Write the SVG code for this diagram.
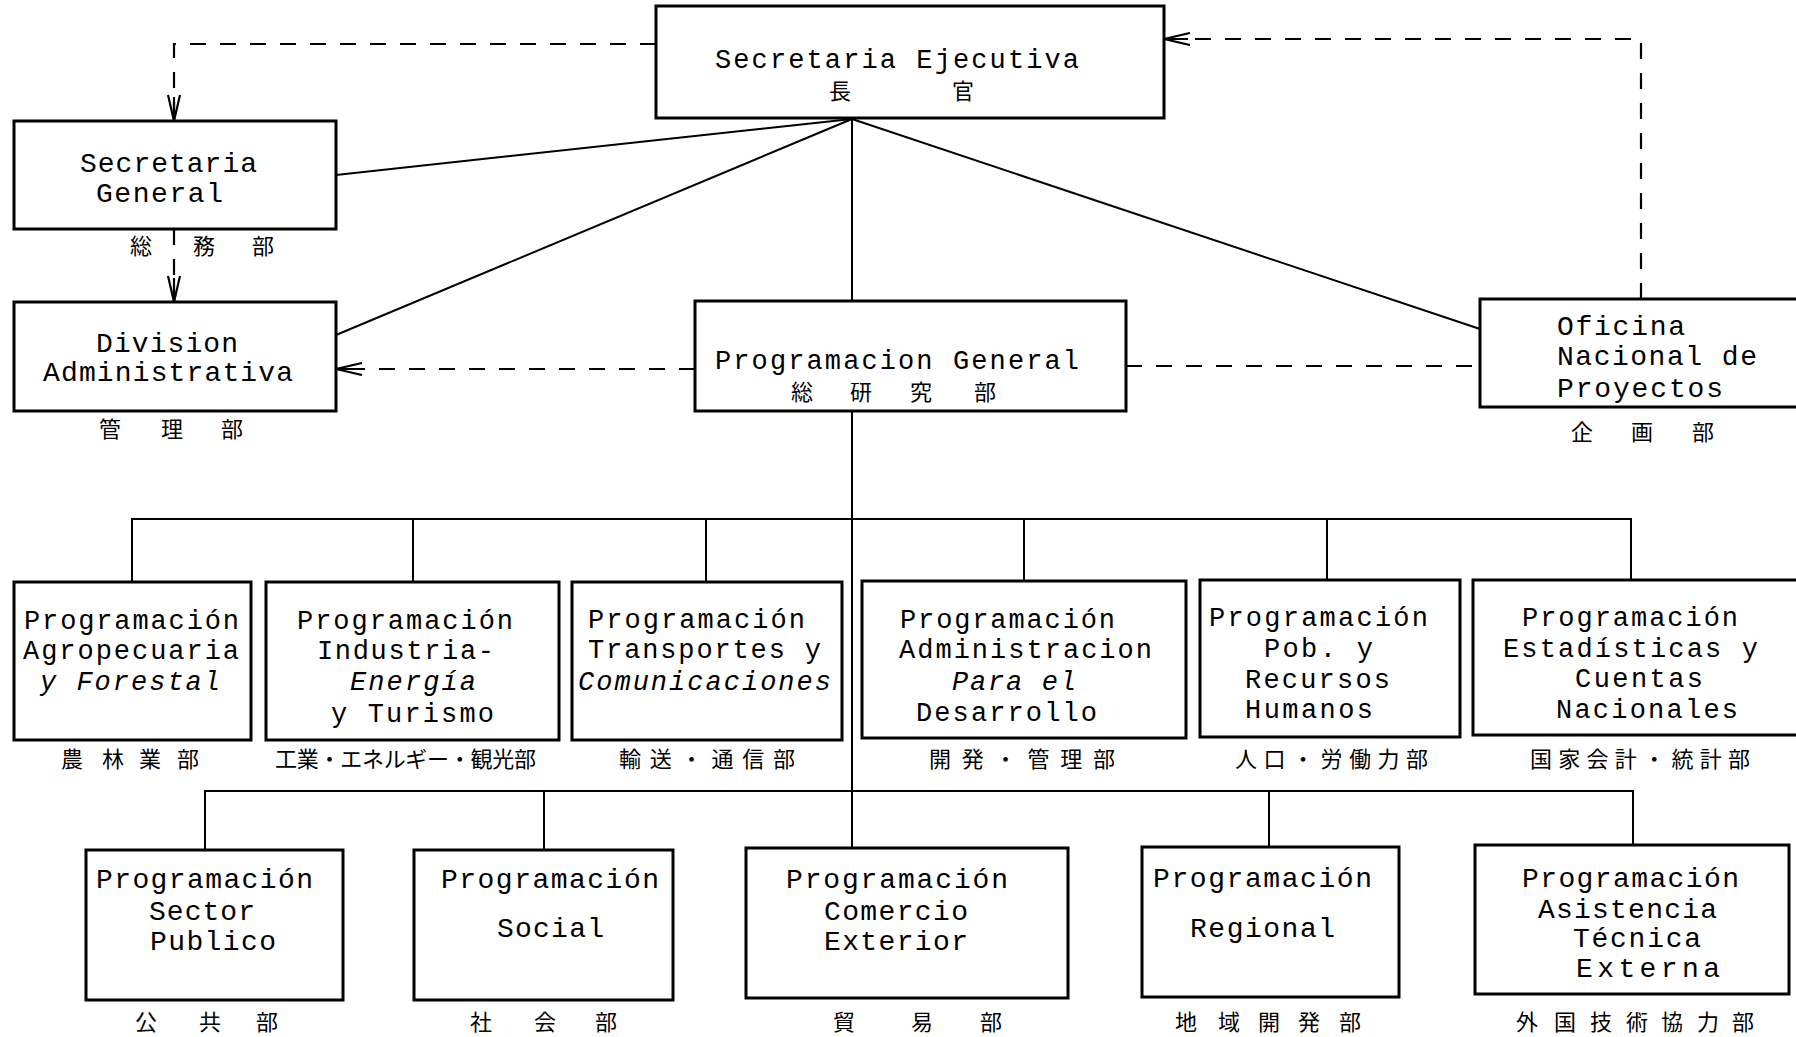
<svg xmlns="http://www.w3.org/2000/svg" width="1796" height="1037" viewBox="0 0 1796 1037">
<style>
.box{fill:#fff;stroke:#000;stroke-width:3}
.ln{fill:none;stroke:#000;stroke-width:2}
.dl{fill:none;stroke:#000;stroke-width:2.2;stroke-dasharray:16 14}
.t{font-family:"Liberation Mono","DejaVu Sans Mono",monospace;font-size:27px;fill:#000}
.n{font-family:"Liberation Mono","DejaVu Sans Mono",monospace;font-size:28px;fill:#000}
.i{font-style:italic}
.j{font-family:"Noto Sans CJK JP","Noto Sans CJK SC",sans-serif;font-size:22px;fill:#000;text-anchor:middle}
.js{font-family:"Noto Sans CJK JP","Noto Sans CJK SC",sans-serif;font-size:22px;fill:#000}
</style>
<defs>
<marker id="arr" markerUnits="userSpaceOnUse" markerWidth="30" markerHeight="14" refX="28" refY="7" orient="auto" viewBox="0 0 30 14">
<path d="M2,1 L28,7 L2,13 M4,7 L28,7" fill="none" stroke="#000" stroke-width="2.2" stroke-dasharray="none"/>
</marker>
</defs>
<rect width="1796" height="1037" fill="#fff"/>

<g id="connectors">
<line class="ln" x1="852" y1="119" x2="336" y2="175"/>
<line class="ln" x1="852" y1="119" x2="336" y2="335"/>
<line class="ln" x1="852" y1="119" x2="852" y2="301"/>
<line class="ln" x1="852" y1="119" x2="1480" y2="329"/>
<line class="ln" x1="852" y1="411" x2="852" y2="848"/>
<path class="ln" d="M132,582 V519 H1631 V580 M413,519 V582 M706,519 V582 M1024,519 V581 M1327,519 V580"/>
<path class="ln" d="M205,850 V791 H1633 V845 M544,791 V850 M1269,791 V847"/>
<path class="dl" d="M656,44 H174 V121" marker-end="url(#arr)"/>
<path class="dl" d="M174,229 V302" marker-end="url(#arr)"/>
<path class="dl" d="M695,369 H336" marker-end="url(#arr)"/>
<path class="dl" d="M1126,366 H1480"/>
<path class="dl" d="M1641,299 V39 H1164" marker-end="url(#arr)"/>
</g>

<g id="secretaria-ejecutiva">
<rect class="box" x="656" y="6" width="508" height="112"/>
<text class="t" x="715" y="68" textLength="364">Secretaria Ejecutiva</text>
<text class="j" x="840 963" y="99">長官</text>
</g>

<g id="secretaria-general">
<rect class="box" x="14" y="121" width="322" height="108"/>
<text class="n" x="80" y="172" textLength="177">Secretaria</text>
<text class="n" x="96" y="202" textLength="127">General</text>
<text class="j" x="141 204 263" y="254">総務部</text>
</g>

<g id="division-administrativa">
<rect class="box" x="14" y="302" width="322" height="109"/>
<text class="n" x="96" y="352" textLength="142">Division</text>
<text class="n" x="43" y="381" textLength="250">Administrativa</text>
<text class="j" x="110 172 232" y="437">管理部</text>
</g>

<g id="programacion-general">
<rect class="box" x="695" y="301" width="431" height="110"/>
<text class="t" x="715" y="369" textLength="364">Programacion General</text>
<text class="j" x="802 861 921 985" y="400">総研究部</text>
</g>

<g id="oficina-nacional">
<rect class="box" x="1480" y="299" width="330" height="108"/>
<text class="n" x="1557" y="335" textLength="128">Oficina</text>
<text class="n" x="1557" y="365" textLength="200">Nacional de</text>
<text class="n" x="1557" y="397" textLength="166">Proyectos</text>
<text class="j" x="1582 1642 1703" y="440">企画部</text>
</g>

<g id="agropecuaria">
<rect class="box" x="14" y="582" width="237" height="158"/>
<text class="t" x="24" y="629" textLength="215">Programación</text>
<text class="t" x="23" y="659" textLength="216">Agropecuaria</text>
<text class="t i" x="40" y="690" textLength="180">y Forestal</text>
<text class="j" x="72 113 150 188" y="767">農林業部</text>
</g>

<g id="industria">
<rect class="box" x="266" y="582" width="293" height="158"/>
<text class="t" x="297" y="629" textLength="216">Programación</text>
<text class="t" x="317" y="659" textLength="177">Industria-</text>
<text class="t i" x="350" y="690" textLength="126">Energía</text>
<text class="t" x="331" y="722" textLength="163">y Turismo</text>
<text class="js" x="275" y="767" textLength="261">工業・エネルギー・観光部</text>
</g>

<g id="transportes">
<rect class="box" x="572" y="582" width="270" height="158"/>
<text class="t" x="588" y="628" textLength="217">Programación</text>
<text class="t" x="588" y="658" textLength="233">Transportes y</text>
<text class="t i" x="578" y="690" textLength="253">Comunicaciones</text>
<text class="js" x="619" y="767" textLength="176">輸送・通信部</text>
</g>

<g id="administracion">
<rect class="box" x="862" y="581" width="324" height="157"/>
<text class="t" x="900" y="628" textLength="215">Programación</text>
<text class="t" x="899" y="658" textLength="253">Administracion</text>
<text class="t i" x="952" y="690" textLength="124">Para el</text>
<text class="t" x="916" y="721" textLength="181">Desarrollo</text>
<text class="js" x="929" y="767" textLength="186">開発・管理部</text>
</g>

<g id="poblacion">
<rect class="box" x="1200" y="580" width="260" height="157"/>
<text class="t" x="1209" y="626" textLength="219">Programación</text>
<text class="t" x="1264" y="657" textLength="109">Pob. y</text>
<text class="t" x="1245" y="688" textLength="145">Recursos</text>
<text class="t" x="1245" y="718" textLength="128">Humanos</text>
<text class="js" x="1235" y="767" textLength="193">人口・労働力部</text>
</g>

<g id="estadisticas">
<rect class="box" x="1473" y="580" width="330" height="155"/>
<text class="t" x="1522" y="626" textLength="216">Programación</text>
<text class="t" x="1503" y="657" textLength="255">Estadísticas y</text>
<text class="t" x="1575" y="687" textLength="128">Cuentas</text>
<text class="t" x="1556" y="718" textLength="182">Nacionales</text>
<text class="js" x="1530" y="767" textLength="220">国家会計・統計部</text>
</g>

<g id="sector-publico">
<rect class="box" x="86" y="850" width="257" height="150"/>
<text class="n" x="96" y="888" textLength="217">Programación</text>
<text class="n" x="149" y="920" textLength="106">Sector</text>
<text class="n" x="150" y="950" textLength="126">Publico</text>
<text class="j" x="146 210 267" y="1030">公共部</text>
</g>

<g id="social">
<rect class="box" x="414" y="850" width="259" height="150"/>
<text class="n" x="441" y="888" textLength="218">Programación</text>
<text class="n" x="497" y="937" textLength="107">Social</text>
<text class="j" x="481 545 606" y="1030">社会部</text>
</g>

<g id="comercio-exterior">
<rect class="box" x="746" y="848" width="322" height="150"/>
<text class="n" x="786" y="888" textLength="222">Programación</text>
<text class="n" x="824" y="920" textLength="144">Comercio</text>
<text class="n" x="824" y="950" textLength="144">Exterior</text>
<text class="j" x="844 922 991" y="1030">貿易部</text>
</g>

<g id="regional">
<rect class="box" x="1142" y="847" width="257" height="150"/>
<text class="n" x="1153" y="887" textLength="219">Programación</text>
<text class="n" x="1190" y="937" textLength="145">Regional</text>
<text class="j" x="1186 1229 1269 1309 1350" y="1030">地域開発部</text>
</g>

<g id="asistencia-tecnica">
<rect class="box" x="1475" y="845" width="314" height="149"/>
<text class="n" x="1522" y="887" textLength="217">Programación</text>
<text class="n" x="1538" y="918" textLength="179">Asistencia</text>
<text class="n" x="1573" y="947" textLength="128">Técnica</text>
<text class="n" x="1576" y="977" textLength="144">Externa</text>
<text class="j" x="1527 1565 1601 1637 1672 1708 1743" y="1030">外国技術協力部</text>
</g>
</svg>
